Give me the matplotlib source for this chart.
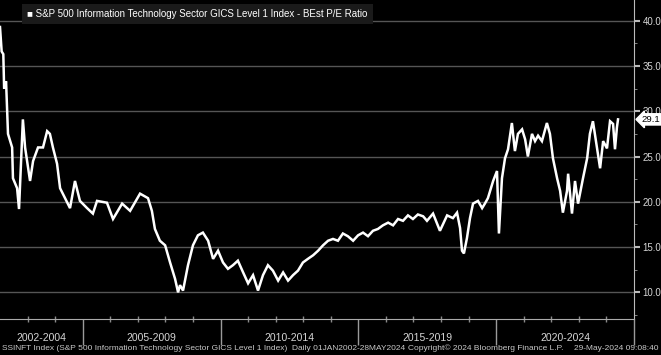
import matplotlib
matplotlib.use("agg")
from matplotlib import pyplot as plt
from matplotlib import transforms
import numpy as np

plt.rcParams['font.family'] = ['Liberation Sans', 'DejaVu Sans']

# BEst P/E ratio (decimal years)
years = [2002.00, 2002.06, 2002.12, 2002.15, 2002.22, 2002.29, 2002.44, 2002.47, 2002.62, 2002.69,
         2002.83, 2002.91, 2003.09, 2003.20, 2003.38, 2003.56, 2003.71, 2003.81, 2003.92, 2004.07,
         2004.18, 2004.36, 2004.54, 2004.72, 2004.90, 2005.16, 2005.37, 2005.52, 2005.88, 2006.10,
         2006.43, 2006.72, 2007.08, 2007.37, 2007.51, 2007.62, 2007.80, 2007.99, 2008.17, 2008.35,
         2008.46, 2008.53, 2008.64, 2008.82, 2009.00, 2009.18, 2009.36, 2009.55, 2009.73, 2009.91,
         2010.09, 2010.27, 2010.45, 2010.63, 2010.82, 2011.00, 2011.18, 2011.36, 2011.54, 2011.72,
         2011.90, 2012.09, 2012.27, 2012.45, 2012.63, 2012.81, 2012.99, 2013.17, 2013.36, 2013.54,
         2013.72, 2013.90, 2014.08, 2014.26, 2014.44, 2014.62, 2014.81, 2014.99, 2015.17, 2015.35,
         2015.53, 2015.71, 2015.89, 2016.08, 2016.26, 2016.44, 2016.62, 2016.80, 2016.98, 2017.16,
         2017.35, 2017.49, 2017.71, 2017.96, 2018.22, 2018.43, 2018.58, 2018.69, 2018.76, 2018.83,
         2018.94, 2019.05, 2019.16, 2019.34, 2019.49, 2019.59, 2019.70, 2019.89, 2020.03, 2020.10,
         2020.21, 2020.32, 2020.43, 2020.57, 2020.68, 2020.79, 2020.94, 2021.05, 2021.15, 2021.30,
         2021.41, 2021.52, 2021.66, 2021.84, 2021.95, 2022.06, 2022.21, 2022.32, 2022.42, 2022.57,
         2022.61, 2022.75, 2022.86, 2022.97, 2023.15, 2023.30, 2023.40, 2023.51, 2023.62, 2023.77,
         2023.88, 2024.02, 2024.13, 2024.24, 2024.31, 2024.38, 2024.42]
pe = [39.3, 36.6, 36.3, 32.5, 33.3, 27.5, 26.0, 22.6, 21.5, 19.2,
      29.1, 26.0, 22.3, 24.5, 26.0, 26.0, 27.8, 27.5, 26.0, 24.2,
      21.5, 20.4, 19.3, 22.3, 20.1, 19.3, 18.7, 20.1, 19.9, 18.1,
      19.8, 19.0, 20.9, 20.4, 19.0, 17.0, 15.7, 15.2, 13.3, 11.5,
      10.0, 10.8, 10.2, 13.0, 15.2, 16.3, 16.6, 15.7, 13.7, 14.6,
      13.3, 12.6, 13.0, 13.5, 12.2, 11.0, 11.9, 10.2, 11.9, 13.0,
      12.4, 11.3, 12.2, 11.3, 11.9, 12.4, 13.3, 13.7, 14.1, 14.6,
      15.2, 15.7, 15.9, 15.7, 16.5, 16.2, 15.7, 16.3, 16.6, 16.2,
      16.8, 17.0, 17.4, 17.7, 17.4, 18.1, 17.9, 18.5, 18.1, 18.6,
      18.4, 17.9, 18.7, 16.8, 18.5, 18.2, 18.8, 17.1, 14.6, 14.3,
      16.0, 18.2, 19.8, 20.1, 19.3, 19.8, 20.4, 22.3, 23.4, 16.5,
      22.6, 24.8, 25.8, 28.7, 25.6, 27.5, 28.0, 26.9, 25.0, 27.5,
      26.7, 27.3, 26.7, 28.7, 27.5, 24.8, 22.6, 21.2, 18.8, 21.2,
      23.1, 18.7, 22.3, 19.8, 22.6, 24.8, 27.5, 28.9, 26.7, 23.7,
      26.7, 25.9, 28.9, 28.6, 25.8, 28.2, 29.1]
last_value = 29.1

section_edges = [2002, 2005, 2010, 2015, 2020, 2025]
section_labels = ["2002-2004", "2005-2009", "2010-2014", "2015-2019", "2020-2024"]
y_ticks = [10, 15, 20, 25, 30, 35, 40]

title = "S&P 500 Information Technology Sector GICS Level 1 Index - BEst P/E Ratio"
footer_left = "SSINFT Index (S&P 500 Information Technology Sector GICS Level 1 Index)  Daily 01JAN2002-28MAY2024"
footer_mid = "Copyright\u00a9 2024 Bloomberg Finance L.P."
footer_right = "29-May-2024 09:08:40"

fig = plt.figure(figsize=(6.61, 3.55), dpi=100, facecolor="black")
ax = fig.add_axes([0, 36 / 355, 634 / 661, 319 / 355])
ax.set_facecolor("black")

ax.plot(years, pe, color="white", lw=1.8, solid_joinstyle="miter")

ax.set_xlim(2002, 2025)
ax.set_ylim(7.06, 42.28)

# right hand value axis
ax.yaxis.tick_right()
ax.set_yticks(y_ticks)
ax.set_yticklabels([f"{v:.1f}" for v in y_ticks])
ax.set_yticks(np.arange(7.5, 40, 5), minor=True)
ax.tick_params(axis="y", which="major", direction="out", length=4, width=1.5,
               color="#bbbbbb", labelcolor="#d6d6d6", labelsize=7, pad=2)
ax.tick_params(axis="y", which="minor", direction="out", length=2.5, color="#999999")
ax.grid(axis="y", color="#555555", lw=1)

# bottom axis: separators between year groups, small year ticks
ax.set_xticks(section_edges[1:])
ax.set_xticklabels([])
ax.set_xticks([y for y in range(2003, 2025) if y not in section_edges], minor=True)
ax.tick_params(axis="x", which="major", direction="out", length=19, width=1, color="#9a9a9a")
ax.tick_params(axis="x", which="minor", direction="inout", length=4, width=1, color="#8a8a8a")

for s in ["top", "left"]:
    ax.spines[s].set_visible(False)
ax.spines["right"].set_color("#bbbbbb")
ax.spines["bottom"].set_color("#aaaaaa")

trans = transforms.blended_transform_factory(ax.transData, ax.transAxes)
for a, b, lab in zip(section_edges[:-1], section_edges[1:], section_labels):
    ax.text((a + b) / 2, -0.058, lab, transform=trans, ha="center", va="center",
            color="#d6d6d6", fontsize=7.5)

# last value tag, drawn over the 30.0 label like the terminal does
trans_y = transforms.blended_transform_factory(ax.transAxes, ax.transData)
ax.text(1.0125, last_value, f"{last_value:.1f}", transform=trans_y, ha="left", va="center",
        color="black", fontsize=6.8, clip_on=False, zorder=5,
        bbox=dict(boxstyle="larrow,pad=0.12", fc="white", ec="white"))

# legend box
fig.text(27 / 661, 1 - 14 / 355, "\u25A0 " + title, ha="left", va="center", color="white",
         fontsize=7, bbox=dict(boxstyle="square,pad=0.55", fc="#1a1a1a", ec="none"))

fig.text(2 / 661, 7 / 355, footer_left, ha="left", va="center", color="#c8c8c8", fontsize=6)
fig.text(408 / 661, 7 / 355, footer_mid, ha="left", va="center", color="#c8c8c8", fontsize=6)
fig.text(658 / 661, 7 / 355, footer_right, ha="right", va="center", color="#c8c8c8", fontsize=6)

plt.savefig("out.png", dpi=100, facecolor="black")
